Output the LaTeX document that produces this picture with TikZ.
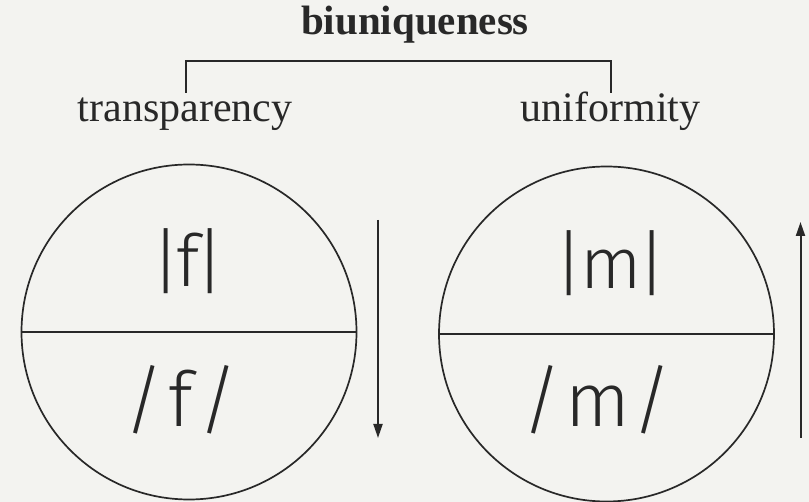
\documentclass[tikz,border=0pt]{standalone}
\usepackage{fontspec}
\setmainfont{Liberation Serif}
\newfontfamily\lightsf{Fira Sans Light}
\usetikzlibrary{arrows.meta}
\definecolor{bg}{RGB}{243,243,240}
\definecolor{ink}{RGB}{40,40,40}
\newcommand{\tk}{\kern-4pt}
\begin{document}
\begin{tikzpicture}[x=1pt,y=-1pt,
  serif/.style={inner sep=0pt, anchor=base, text=ink, font=\fontsize{42}{48}\selectfont},
  phon/.style={inner sep=0pt, anchor=base, text=ink, font=\lightsf\fontsize{72}{80}\selectfont},
  phonb/.style={inner sep=0pt, anchor=base, text=ink, font=\lightsf\fontsize{76}{80}\selectfont},
  disc/.style={circle, draw=ink, line width=1.7pt, minimum size=335pt, inner sep=0pt},
  arr/.style={draw=ink, line width=2pt, -{Triangle[length=14pt,width=9pt]}},
  bracket/.style={draw=ink, line width=1.7pt}]
\fill[bg] (0,0) rectangle (809,502);
\useasboundingbox (0,0) rectangle (809,502);

\node[serif, font=\bfseries\fontsize{41}{48}\selectfont] (title) at (415,35) {biuniqueness};
\node[serif] (transp) at (185,122) {transparency};
\node[serif] (unif) at (610.5,122) {uniformity};

\coordinate (bl) at (186,93);
\coordinate (br) at (611,93);
\coordinate (bt) at (398,61);
\draw[bracket] (bl) |- (bt) -| (br);

\node[disc] (c1) at (189,332) {};
\node[disc] (c2) at (606.5,334) {};
\draw[bracket] (c1.west) -- (c1.east);
\draw[bracket] (c2.west) -- (c2.east);

\node[phon] (f1) at (188,287) {|\tk f\tk|};
\node[phonb] (f2) at (181,427) {/\kern5pt f\kern5pt/};
\node[phon] (m1) at (611,289) {|\tk m\tk|};
\node[phonb] (m2) at (597.5,427) {/\kern3pt m\kern3pt/};

\coordinate (a1s) at (378,220);
\coordinate (a1e) at (378,438);
\coordinate (a2s) at (800.5,438);
\coordinate (a2e) at (800.5,222);
\draw[arr] (a1s) -- (a1e);
\draw[arr] (a2s) -- (a2e);
\end{tikzpicture}
\end{document}
